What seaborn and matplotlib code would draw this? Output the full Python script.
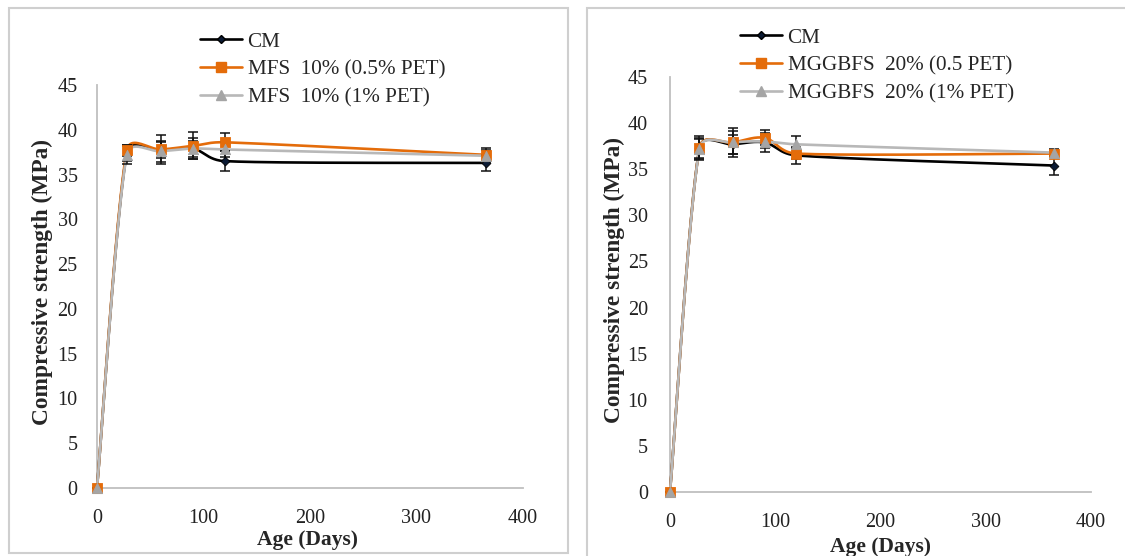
import numpy as np
import pandas as pd
import matplotlib
matplotlib.use("Agg")
import matplotlib.pyplot as plt
from matplotlib.lines import Line2D
from matplotlib.patches import Rectangle
from matplotlib.font_manager import FontProperties
import seaborn as sns

# ---- data -------------------------------------------------------------
days = [0, 28, 60, 90, 120, 365]

# Left panel: MFS mixes
mfs_cm = [0, 37.4, 37.7, 37.9, 36.5, 36.3]
mfs_05 = [0, 37.7, 37.8, 38.2, 38.6, 37.2]
mfs_1 = [0, 37.2, 37.6, 37.9, 37.8, 37.1]
mfs_cm_err = [0, 0.9, 0.9, 0.9, 1.1, 0.9]
mfs_05_err = [0, 0.6, 1.6, 1.5, 1.0, 0.8]
mfs_1_err = [0, 1.0, 1.2, 1.2, 0.8, 0.6]

# Right panel: MGGBFS mixes
mg_cm = [0, 37.3, 37.7, 37.9, 36.5, 35.4]
mg_05 = [0, 37.3, 37.9, 38.4, 36.7, 36.7]
mg_1 = [0, 37.2, 37.9, 38.0, 37.7, 36.8]
mg_cm_err = [0, 1.1, 1.0, 1.0, 0.9, 1.0]
mg_05_err = [0, 1.3, 1.6, 0.8, 0.6, 0.4]
mg_1_err = [0, 1.1, 1.2, 0.7, 0.9, 0.4]

left_labels = ["CM", "MFS  10% (0.5% PET)", "MFS  10% (1% PET)"]
right_labels = ["CM", "MGGBFS  20% (0.5 PET)", "MGGBFS  20% (1% PET)"]

x_ticks = [0, 100, 200, 300, 400]
y_ticks = [0, 5, 10, 15, 20, 25, 30, 35, 40, 45]

# ---- styling ----------------------------------------------------------
sns.set_style("white")
plt.rcParams["font.family"] = ["Liberation Serif", "DejaVu Sans"]
SERIF = ["Liberation Serif", "DejaVu Sans"]

W, H = 1125, 556
DPI = 100
fig = plt.figure(figsize=(W / DPI, H / DPI), dpi=DPI)
fig.patch.set_facecolor("white")

BLACK = "#000000"
NAVY = "#0b1a33"
ORANGE = "#e46c0a"
GREY_LINE = "#b8b8b8"
GREY_MARK = "#a5a5a5"
AXIS_GREY = "#bfbfbf"

series_style = [
    dict(line=BLACK, mcolor=NAVY, marker="D", s=20, ec=BLACK),
    dict(line=ORANGE, mcolor=ORANGE, marker="s", s=55, ec=ORANGE),
    dict(line=GREY_LINE, mcolor=GREY_MARK, marker="^", s=55, ec=GREY_MARK),
]


def px_axes(x0, x1, ytop, ybot):
    """Axes rectangle given in pixel coordinates (origin top-left)."""
    return fig.add_axes([x0 / W, 1 - ybot / H, (x1 - x0) / W, (ybot - ytop) / H])


def smooth(ax, xs, ys, steps=40):
    """Bezier smoothing of a polyline in display space (spreadsheet-style)."""
    P = ax.transData.transform(np.column_stack([xs, ys]).astype(float))
    n = len(P)
    out = []
    t = np.linspace(0, 1, steps)[:, None]
    for i in range(n - 1):
        p0, p1, p2, p3 = P[max(i - 1, 0)], P[i], P[i + 1], P[min(i + 2, n - 1)]
        d12 = np.hypot(*(p2 - p1))
        d02 = np.hypot(*(p2 - p0))
        d13 = np.hypot(*(p3 - p1))
        f1 = 1 / 6 if (d02 == 0 or d02 / 6 < d12 / 2) else d12 / (2 * d02)
        f2 = 1 / 6 if (d13 == 0 or d13 / 6 < d12 / 2) else d12 / (2 * d13)
        c1 = p1 + f1 * (p2 - p0)
        c2 = p2 - f2 * (p3 - p1)
        B = ((1 - t) ** 3) * p1 + 3 * ((1 - t) ** 2) * t * c1 + 3 * (1 - t) * t ** 2 * c2 + t ** 3 * p2
        out.append(B if i == n - 2 else B[:-1])
    pts = ax.transData.inverted().transform(np.vstack(out))
    return pts[:, 0], pts[:, 1]


def draw_panel(ax, series, errors, labels, leg_xy, xlab_xy, ylab_xy, ypad):
    ax.set_xlim(0, 400)
    ax.set_ylim(0, 45)
    ax.set_facecolor("white")

    for vals, err, st in zip(series, errors, series_style):
        sx, sy = smooth(ax, days, vals)
        curve = pd.DataFrame({"x": sx, "y": sy})
        sns.lineplot(data=curve, x="x", y="y", sort=False, estimator=None,
                     color=st["line"], lw=1.9, ax=ax, zorder=2)
        eb = ax.errorbar(days, vals, yerr=err, fmt="none", ecolor="#111111",
                         elinewidth=1.1, capsize=3.6, capthick=1.1, zorder=3)
        for art in eb.lines[1] + eb.lines[2]:
            art.set_clip_on(False)
        pts = pd.DataFrame({"x": days, "y": vals})
        sns.scatterplot(data=pts, x="x", y="y", marker=st["marker"], s=st["s"],
                        color=st["mcolor"], edgecolor=st["ec"], linewidth=0.6,
                        ax=ax, zorder=4, legend=False, clip_on=False)
    for ln in ax.lines:
        ln.set_clip_on(False)

    ax.set_xticks(x_ticks)
    ax.set_yticks(y_ticks)
    for side in ("top", "right"):
        ax.spines[side].set_visible(False)
    for side in ("left", "bottom"):
        ax.spines[side].set_color(AXIS_GREY)
        ax.spines[side].set_linewidth(1.3)
        ax.spines[side].set_zorder(1)
    ax.tick_params(axis="y", direction="in", length=4, width=1.1, color=AXIS_GREY,
                   pad=ypad, labelsize=14.5, labelcolor="#222222")
    ax.tick_params(axis="x", direction="out", length=4, width=1.1, color=AXIS_GREY,
                   pad=11, labelsize=14.5, labelcolor="#222222")
    for lab in ax.get_yticklabels() + ax.get_xticklabels():
        lab.set_family(SERIF)

    ax.set_xlabel("Age (Days)", fontsize=15.5, fontweight="bold",
                  family=SERIF, va="center")
    ax.set_ylabel("Compressive strength (MPa)", fontsize=16.8, fontweight="bold",
                  family=SERIF, va="center")
    ax.xaxis.set_label_coords(*xlab_xy)
    ax.yaxis.set_label_coords(*ylab_xy)

    handles = [
        Line2D([], [], color=st["line"], lw=1.9, marker=st["marker"],
               markersize={"D": 4.5, "s": 7.2, "^": 7.2}[st["marker"]],
               markerfacecolor=st["mcolor"], markeredgecolor=st["ec"])
        for st in series_style
    ]
    ax.legend(handles, labels, loc="upper left",
              bbox_to_anchor=(leg_xy[0] / W, 1 - leg_xy[1] / H),
              bbox_transform=fig.transFigure, frameon=False,
              prop=FontProperties(family="Liberation Serif", size=15.2),
              handlelength=2.0, handletextpad=0.25, labelspacing=0.38,
              borderpad=0, borderaxespad=0)


# panel frames
fig.patches.append(Rectangle((9 / W, 1 - 553 / H), (568 - 9) / W, (553 - 8) / H,
                             transform=fig.transFigure, fill=False,
                             ec="#cfcfcf", lw=1.5, zorder=0))
fig.patches.append(Rectangle((587 / W, 1 - 570 / H), (1140 - 587) / W, (570 - 8) / H,
                             transform=fig.transFigure, fill=False,
                             ec="#cfcfcf", lw=1.5, zorder=0))

ax1 = px_axes(97, 523, 85, 488)
ax2 = px_axes(670, 1091, 77, 492)

# label positions in axes fractions
draw_panel(ax1, [mfs_cm, mfs_05, mfs_1], [mfs_cm_err, mfs_05_err, mfs_1_err],
           left_labels, leg_xy=(200, 32), xlab_xy=(0.495, -0.13),
           ylab_xy=(-0.127, 0.51), ypad=14)
draw_panel(ax2, [mg_cm, mg_05, mg_1], [mg_cm_err, mg_05_err, mg_1_err],
           right_labels, leg_xy=(740, 28), xlab_xy=(0.499, -0.133),
           ylab_xy=(-0.131, 0.51), ypad=16)

fig.savefig("out.png", dpi=DPI, facecolor="white")
